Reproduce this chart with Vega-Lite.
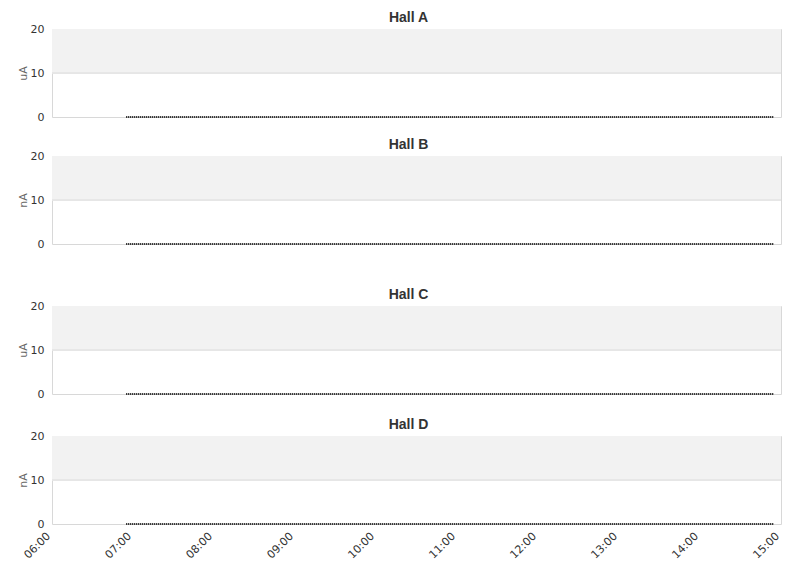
{
  "$schema": "https://vega.github.io/schema/vega-lite/v6.json",
  "padding": {"left": 16, "top": 10, "right": 5, "bottom": 5},
  "config": {
    "view": {"stroke": "#d8d8d8"},
    "title": {"font": "Liberation Sans", "fontSize": 14, "fontWeight": "bold", "color": "#333333"},
    "axis": {"labelFont": "DejaVu Sans", "labelFontSize": 11, "labelColor": "#333333", "titleFont": "DejaVu Sans", "titleFontSize": 11, "titleColor": "#666666", "titleFontWeight": "normal"}
  },
  "data": {"values": [
    {"time": "2024-01-01T06:55:00", "value": 0, "hall": "Hall A"},
    {"time": "2024-01-01T07:55:00", "value": 0, "hall": "Hall A"},
    {"time": "2024-01-01T08:55:00", "value": 0, "hall": "Hall A"},
    {"time": "2024-01-01T09:55:00", "value": 0, "hall": "Hall A"},
    {"time": "2024-01-01T10:55:00", "value": 0, "hall": "Hall A"},
    {"time": "2024-01-01T11:55:00", "value": 0, "hall": "Hall A"},
    {"time": "2024-01-01T12:55:00", "value": 0, "hall": "Hall A"},
    {"time": "2024-01-01T13:55:00", "value": 0, "hall": "Hall A"},
    {"time": "2024-01-01T14:55:00", "value": 0, "hall": "Hall A"},
    {"time": "2024-01-01T06:55:00", "value": 0, "hall": "Hall B"},
    {"time": "2024-01-01T07:55:00", "value": 0, "hall": "Hall B"},
    {"time": "2024-01-01T08:55:00", "value": 0, "hall": "Hall B"},
    {"time": "2024-01-01T09:55:00", "value": 0, "hall": "Hall B"},
    {"time": "2024-01-01T10:55:00", "value": 0, "hall": "Hall B"},
    {"time": "2024-01-01T11:55:00", "value": 0, "hall": "Hall B"},
    {"time": "2024-01-01T12:55:00", "value": 0, "hall": "Hall B"},
    {"time": "2024-01-01T13:55:00", "value": 0, "hall": "Hall B"},
    {"time": "2024-01-01T14:55:00", "value": 0, "hall": "Hall B"},
    {"time": "2024-01-01T06:55:00", "value": 0, "hall": "Hall C"},
    {"time": "2024-01-01T07:55:00", "value": 0, "hall": "Hall C"},
    {"time": "2024-01-01T08:55:00", "value": 0, "hall": "Hall C"},
    {"time": "2024-01-01T09:55:00", "value": 0, "hall": "Hall C"},
    {"time": "2024-01-01T10:55:00", "value": 0, "hall": "Hall C"},
    {"time": "2024-01-01T11:55:00", "value": 0, "hall": "Hall C"},
    {"time": "2024-01-01T12:55:00", "value": 0, "hall": "Hall C"},
    {"time": "2024-01-01T13:55:00", "value": 0, "hall": "Hall C"},
    {"time": "2024-01-01T14:55:00", "value": 0, "hall": "Hall C"},
    {"time": "2024-01-01T06:55:00", "value": 0, "hall": "Hall D"},
    {"time": "2024-01-01T07:55:00", "value": 0, "hall": "Hall D"},
    {"time": "2024-01-01T08:55:00", "value": 0, "hall": "Hall D"},
    {"time": "2024-01-01T09:55:00", "value": 0, "hall": "Hall D"},
    {"time": "2024-01-01T10:55:00", "value": 0, "hall": "Hall D"},
    {"time": "2024-01-01T11:55:00", "value": 0, "hall": "Hall D"},
    {"time": "2024-01-01T12:55:00", "value": 0, "hall": "Hall D"},
    {"time": "2024-01-01T13:55:00", "value": 0, "hall": "Hall D"},
    {"time": "2024-01-01T14:55:00", "value": 0, "hall": "Hall D"}
  ]},
  "spacing": 37,
  "vconcat": [
    {
      "spacing": 14,
      "vconcat": [
        {
          "title": {"text": "Hall A", "offset": -2, "dx": -8},
          "width": 729,
          "height": 88,
          "transform": [{"filter": "datum.hall == 'Hall A'"}],
          "layer": [
            {
              "mark": {"type": "rect", "color": "#f2f2f2"},
              "encoding": {
                "y": {"datum": 10, "type": "quantitative", "scale": {"domain": [0, 20]},
                  "axis": {"values": [0, 10, 20], "grid": false, "domain": false, "ticks": false, "labelPadding": 8, "titlePadding": 2, "title": "uA"}},
                "y2": {"datum": 20}
              }
            },
            {
              "mark": {"type": "rule", "color": "#e6e6e6", "strokeWidth": 1},
              "encoding": {"y": {"datum": 10, "type": "quantitative"}}
            },
            {
              "mark": {"type": "line", "color": "#000000", "strokeWidth": 2, "strokeDash": [1, 1]},
              "encoding": {
                "x": {"field": "time", "type": "temporal", "axis": null,
                  "scale": {"domain": [{"year": 2024, "month": 1, "date": 1, "hours": 6}, {"year": 2024, "month": 1, "date": 1, "hours": 15}]}},
                "y": {"field": "value", "type": "quantitative"}
              }
            }
          ]
        },
        {
          "title": {"text": "Hall B", "offset": -2, "dx": -8},
          "width": 729,
          "height": 88,
          "transform": [{"filter": "datum.hall == 'Hall B'"}],
          "layer": [
            {
              "mark": {"type": "rect", "color": "#f2f2f2"},
              "encoding": {
                "y": {"datum": 10, "type": "quantitative", "scale": {"domain": [0, 20]},
                  "axis": {"values": [0, 10, 20], "grid": false, "domain": false, "ticks": false, "labelPadding": 8, "titlePadding": 2, "title": "nA"}},
                "y2": {"datum": 20}
              }
            },
            {
              "mark": {"type": "rule", "color": "#e6e6e6", "strokeWidth": 1},
              "encoding": {"y": {"datum": 10, "type": "quantitative"}}
            },
            {
              "mark": {"type": "line", "color": "#000000", "strokeWidth": 2, "strokeDash": [1, 1]},
              "encoding": {
                "x": {"field": "time", "type": "temporal", "axis": null,
                  "scale": {"domain": [{"year": 2024, "month": 1, "date": 1, "hours": 6}, {"year": 2024, "month": 1, "date": 1, "hours": 15}]}},
                "y": {"field": "value", "type": "quantitative"}
              }
            }
          ]
        }
      ]
    },
    {
      "spacing": 17,
      "vconcat": [
        {
          "title": {"text": "Hall C", "offset": -2, "dx": -8},
          "width": 729,
          "height": 88,
          "transform": [{"filter": "datum.hall == 'Hall C'"}],
          "layer": [
            {
              "mark": {"type": "rect", "color": "#f2f2f2"},
              "encoding": {
                "y": {"datum": 10, "type": "quantitative", "scale": {"domain": [0, 20]},
                  "axis": {"values": [0, 10, 20], "grid": false, "domain": false, "ticks": false, "labelPadding": 8, "titlePadding": 2, "title": "uA"}},
                "y2": {"datum": 20}
              }
            },
            {
              "mark": {"type": "rule", "color": "#e6e6e6", "strokeWidth": 1},
              "encoding": {"y": {"datum": 10, "type": "quantitative"}}
            },
            {
              "mark": {"type": "line", "color": "#000000", "strokeWidth": 2, "strokeDash": [1, 1]},
              "encoding": {
                "x": {"field": "time", "type": "temporal", "axis": null,
                  "scale": {"domain": [{"year": 2024, "month": 1, "date": 1, "hours": 6}, {"year": 2024, "month": 1, "date": 1, "hours": 15}]}},
                "y": {"field": "value", "type": "quantitative"}
              }
            }
          ]
        },
        {
          "title": {"text": "Hall D", "offset": -2, "dx": -8},
          "width": 729,
          "height": 88,
          "transform": [{"filter": "datum.hall == 'Hall D'"}],
          "layer": [
            {
              "mark": {"type": "rect", "color": "#f2f2f2"},
              "encoding": {
                "y": {"datum": 10, "type": "quantitative", "scale": {"domain": [0, 20]},
                  "axis": {"values": [0, 10, 20], "grid": false, "domain": false, "ticks": false, "labelPadding": 8, "titlePadding": 2, "title": "nA"}},
                "y2": {"datum": 20}
              }
            },
            {
              "mark": {"type": "rule", "color": "#e6e6e6", "strokeWidth": 1},
              "encoding": {"y": {"datum": 10, "type": "quantitative"}}
            },
            {
              "mark": {"type": "line", "color": "#000000", "strokeWidth": 2, "strokeDash": [1, 1]},
              "encoding": {
                "x": {"field": "time", "type": "temporal", "title": null,
                  "scale": {"domain": [{"year": 2024, "month": 1, "date": 1, "hours": 6}, {"year": 2024, "month": 1, "date": 1, "hours": 15}]},
                  "axis": {"format": "%H:%M", "labelAngle": -45, "grid": false, "domain": false, "ticks": false, "labelPadding": 6, "labelOffset": -8,
                    "values": [
                      {"year": 2024, "month": 1, "date": 1, "hours": 6},
                      {"year": 2024, "month": 1, "date": 1, "hours": 7},
                      {"year": 2024, "month": 1, "date": 1, "hours": 8},
                      {"year": 2024, "month": 1, "date": 1, "hours": 9},
                      {"year": 2024, "month": 1, "date": 1, "hours": 10},
                      {"year": 2024, "month": 1, "date": 1, "hours": 11},
                      {"year": 2024, "month": 1, "date": 1, "hours": 12},
                      {"year": 2024, "month": 1, "date": 1, "hours": 13},
                      {"year": 2024, "month": 1, "date": 1, "hours": 14},
                      {"year": 2024, "month": 1, "date": 1, "hours": 15}
                    ]}},
                "y": {"field": "value", "type": "quantitative"}
              }
            }
          ]
        }
      ]
    }
  ]
}
